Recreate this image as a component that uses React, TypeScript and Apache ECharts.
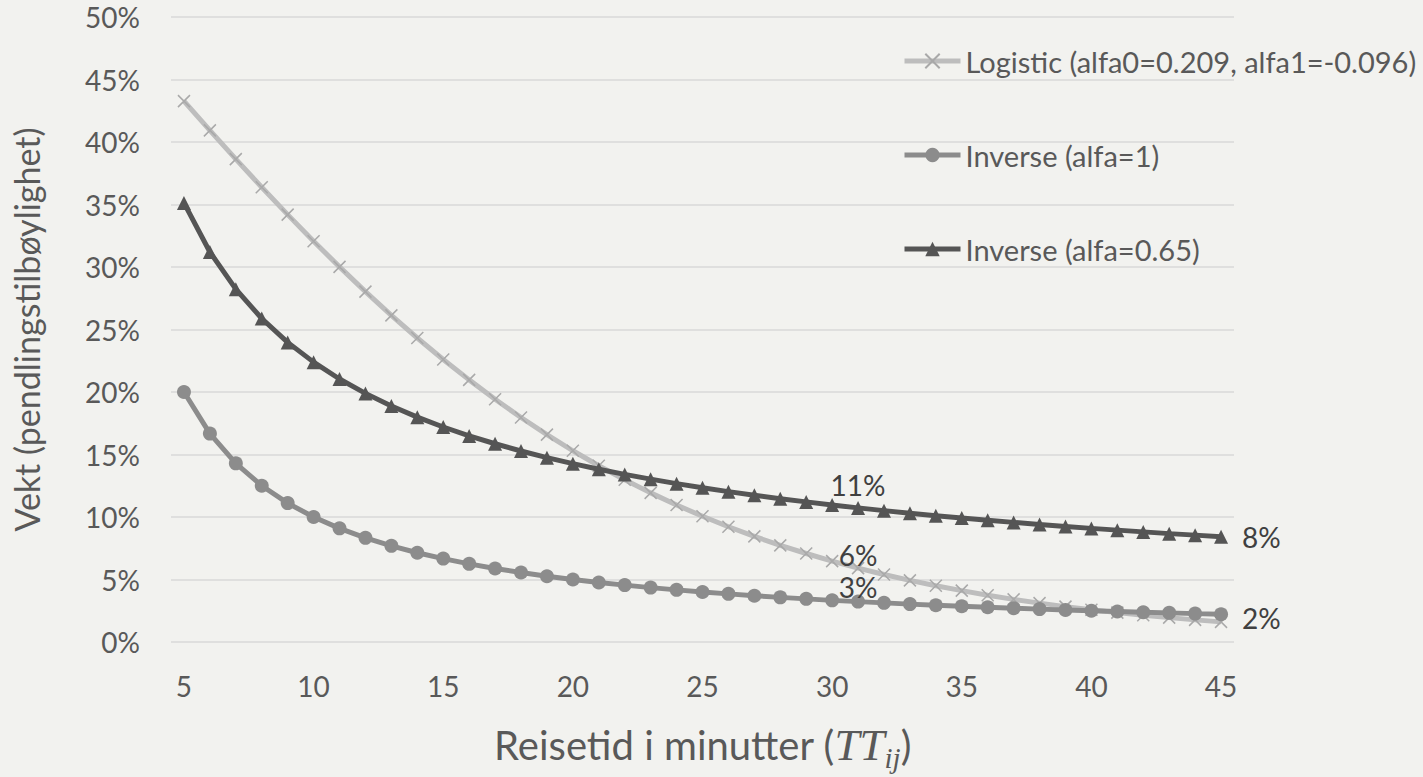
import React, { useEffect, useRef } from "react";
import * as echarts from "echarts";

// Travel time in minutes (x categories)
const minutes = [
  "5", "6", "7", "8", "9", "10", "11", "12", "13", "14", "15", "16", "17", "18", "19", "20",
  "21", "22", "23", "24", "25", "26", "27", "28", "29", "30", "31", "32", "33", "34", "35",
  "36", "37", "38", "39", "40", "41", "42", "43", "44", "45",
];

const seriesNames = [
  "Logistic (alfa0=0.209, alfa1=-0.096)",
  "Inverse (alfa=1)",
  "Inverse (alfa=0.65)",
];

const logisticValues = [
  0.4327, 0.4093, 0.3863, 0.3638, 0.3419, 0.3206, 0.3001, 0.2803, 0.2613, 0.2432, 0.226,
  0.2097, 0.1942, 0.1796, 0.1659, 0.153, 0.141, 0.1298, 0.1193, 0.1096, 0.1006, 0.0922,
  0.0845, 0.0773, 0.0708, 0.0647, 0.0591, 0.054, 0.0493, 0.045, 0.0411, 0.0374, 0.0341,
  0.0311, 0.0283, 0.0258, 0.0235, 0.0214, 0.0195, 0.0177, 0.0161,
];

const inverse1Values = [
  0.2, 0.1667, 0.1429, 0.125, 0.1111, 0.1, 0.0909, 0.0833, 0.0769, 0.0714, 0.0667, 0.0625,
  0.0588, 0.0556, 0.0526, 0.05, 0.0476, 0.0455, 0.0435, 0.0417, 0.04, 0.0385, 0.037, 0.0357,
  0.0345, 0.0333, 0.0323, 0.0313, 0.0303, 0.0294, 0.0286, 0.0278, 0.027, 0.0263, 0.0256,
  0.025, 0.0244, 0.0238, 0.0233, 0.0227, 0.0222,
];

const inverse065Values = [
  0.3513, 0.312, 0.2823, 0.2588, 0.2397, 0.2239, 0.2104, 0.1989, 0.1888, 0.1799, 0.172,
  0.1649, 0.1586, 0.1528, 0.1475, 0.1427, 0.1382, 0.1341, 0.1303, 0.1267, 0.1234, 0.1203,
  0.1174, 0.1146, 0.1121, 0.1096, 0.1073, 0.1051, 0.103, 0.101, 0.0992, 0.0974, 0.0957,
  0.094, 0.0924, 0.0909, 0.0895, 0.0881, 0.0867, 0.0855, 0.0842,
];

// Indices of points that carry data labels, per series
const logisticLabelIdx = [26];
const inverse1LabelIdx = [26, 40];
const inverse065LabelIdx = [26, 40];

const yTicks = { min: 0, max: 0.5, step: 0.05 };

const BG = "#f2f2ef";
const TEXT = "#595959";
const FONT = "Lato, 'Open Sans', sans-serif";
const MATH_FONT = "'Liberation Serif', 'DejaVu Serif', serif";

const pct = (v: number) => Math.round(v * 100) + "%";

export default function App() {
  const ref = useRef<HTMLDivElement>(null);

  useEffect(() => {
    document.body.style.margin = "0";
    document.body.style.background = BG;
    const chart = echarts.init(ref.current!, undefined, { renderer: "svg" });

    const labelStyle = {
      show: true,
      fontFamily: FONT,
      fontSize: 28,
      color: "#404040",
      formatter: (p: any) => pct(p.value),
    };

    const build = (
      values: number[],
      idx: number[],
      lastIdx: number,
      midOffset: number[],
      endOffset: number[]
    ) =>
      values.map((v, i) => {
        if (!idx.includes(i)) return v;
        if (i === lastIdx) {
          return {
            value: v,
            label: { ...labelStyle, position: "right", distance: 14, offset: endOffset },
          };
        }
        return { value: v, label: { ...labelStyle, position: "top", distance: 2, offset: midOffset } };
      });

    const option: any = {
      animation: false,
      backgroundColor: BG,
      grid: { left: 171, right: 189, top: 17, bottom: 122, containLabel: false },
      legend: {
        orient: "vertical",
        left: 897,
        top: 39,
        itemWidth: 56,
        itemHeight: 18,
        itemGap: 60,
        data: seriesNames,
        lineStyle: { width: 5 },
        textStyle: { fontFamily: FONT, fontSize: 29, color: TEXT, lineHeight: 34 },
      },
      xAxis: {
        type: "category",
        data: minutes,
        boundaryGap: true,
        axisLine: { show: false },
        axisTick: { show: false },
        axisLabel: { interval: 4, fontFamily: FONT, fontSize: 28, color: TEXT, margin: 30 },
        name: "{a|Reisetid i minutter (}{b|TT}{c|ij}{a|)}",
        nameLocation: "middle",
        nameGap: 76,
        nameTextStyle: {
          rich: {
            a: { fontFamily: FONT, fontSize: 40, color: TEXT, lineHeight: 54, verticalAlign: "middle" },
            b: {
              fontFamily: MATH_FONT,
              fontStyle: "italic",
              fontSize: 45,
              color: TEXT,
              lineHeight: 54,
              verticalAlign: "middle",
            },
            c: {
              fontFamily: MATH_FONT,
              fontStyle: "italic",
              fontSize: 29,
              color: TEXT,
              lineHeight: 54,
              verticalAlign: "bottom",
            },
          },
        },
      },
      yAxis: {
        type: "value",
        min: yTicks.min,
        max: yTicks.max,
        interval: yTicks.step,
        axisLine: { show: false },
        axisTick: { show: false },
        axisLabel: { fontFamily: FONT, fontSize: 28, color: TEXT, margin: 31, formatter: pct },
        splitLine: { lineStyle: { color: "#d9d9d9", width: 1.5 } },
        name: "Vekt (pendlingstilbøylighet)",
        nameLocation: "middle",
        nameGap: 128,
        nameTextStyle: { fontFamily: FONT, fontSize: 34, color: TEXT },
      },
      series: [
        {
          name: seriesNames[0],
          type: "line",
          data: build(logisticValues, logisticLabelIdx, -1, [0, 10], [0, 0]),
          symbol: "path://M0,0L10,10M10,0L0,10",
          symbolSize: 12,
          lineStyle: { color: "#bdbdbd", width: 5 },
          itemStyle: { color: "#bdbdbd", borderColor: "#a9a9a9", borderWidth: 1.5 },
          z: 2,
        },
        {
          name: seriesNames[1],
          type: "line",
          data: build(inverse1Values, inverse1LabelIdx, 40, [0, 8], [0, 4]),
          symbol: "circle",
          symbolSize: 14,
          lineStyle: { color: "#8c8c8c", width: 5 },
          itemStyle: { color: "#8c8c8c" },
          z: 3,
        },
        {
          name: seriesNames[2],
          type: "line",
          data: build(inverse065Values, inverse065LabelIdx, 40, [0, 0], [0, 0]),
          symbol: "triangle",
          symbolSize: 14,
          lineStyle: { color: "#555555", width: 5 },
          itemStyle: { color: "#555555" },
          z: 4,
        },
      ],
    };

    chart.setOption(option);
    return () => chart.dispose();
  }, []);

  return <div ref={ref} style={{ width: 1423, height: 777 }} />;
}
